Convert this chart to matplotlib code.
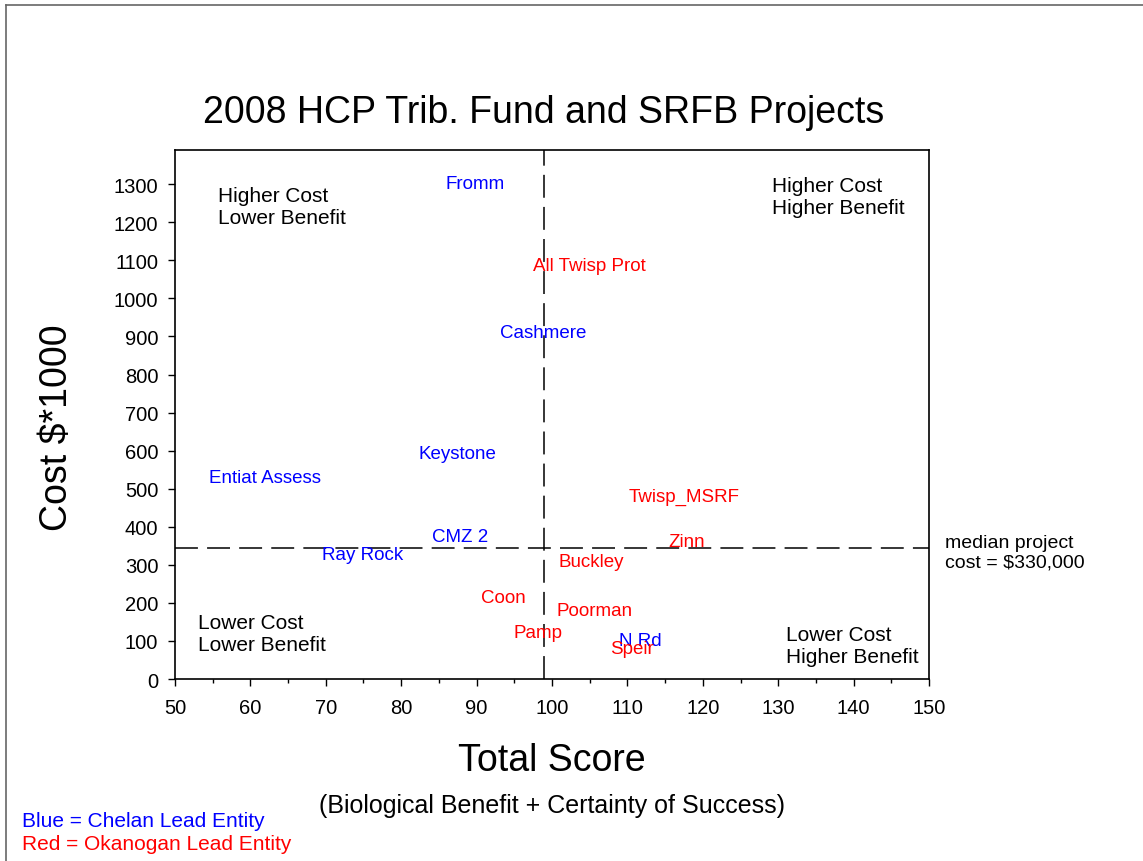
import matplotlib
matplotlib.use("Agg")
import matplotlib.pyplot as plt
from matplotlib.lines import Line2D
from matplotlib.ticker import MultipleLocator

plt.rcParams['font.family'] = ['Liberation Sans', 'DejaVu Sans']

# Project data (Total Score, Cost $*1000)
chelan_names = ["Fromm", "Cashmere", "Keystone", "Entiat Assess", "CMZ 2", "Ray Rock", "N Rd"]
chelan_score = [89.8, 98.8, 87.4, 61.9, 87.8, 74.9, 111.7]
chelan_cost = [1302, 911, 593, 530, 375, 328, 102]

okanogan_names = ["All Twisp Prot", "Twisp_MSRF", "Zinn", "Buckley", "Coon", "Poorman", "Pamp", "Speir"]
okanogan_score = [105.0, 117.5, 117.8, 105.2, 93.5, 105.6, 98.1, 110.6]
okanogan_cost = [1087, 480, 362, 310, 213, 181, 123, 81]

median_score = 99
median_cost = 343

quadrant_labels = ["Higher Cost\nLower Benefit", "Higher Cost\nHigher Benefit",
                   "Lower Cost\nLower Benefit", "Lower Cost\nHigher Benefit"]
quadrant_x = [55.7, 129.2, 53.0, 131.0]
quadrant_y = [1241, 1267, 119, 88]

W, H = 1143, 862
fig = plt.figure(figsize=(W / 100, H / 100), dpi=100)
ax = fig.add_axes([175 / W, 1 - 680 / H, (929 - 175) / W, (680 - 151) / H])

ax.set_xlim(50, 150)
ax.set_ylim(0, 1390)
ax.xaxis.set_major_locator(MultipleLocator(10))
ax.xaxis.set_minor_locator(MultipleLocator(5))
ax.set_yticks(range(0, 1301, 100))
ax.tick_params(axis='both', which='major', direction='out', length=5, width=1,
               labelsize=14.5, colors='black')
ax.tick_params(axis='y', which='major', pad=7)
ax.tick_params(axis='x', which='major', pad=9)
ax.tick_params(axis='x', which='minor', direction='out', length=3, width=1)
for s in ax.spines.values():
    s.set_linewidth(1.2)

ax.axvline(median_score, color='black', lw=1.1, dashes=(15, 6))
ax.axhline(median_cost, color='black', lw=1.1, dashes=(15, 6))

for n, x, y in zip(chelan_names, chelan_score, chelan_cost):
    ax.text(x, y, n, color='#0000ff', fontsize=13.5, ha='center', va='center')
for n, x, y in zip(okanogan_names, okanogan_score, okanogan_cost):
    ax.text(x, y, n, color='#ff0000', fontsize=13.5, ha='center', va='center')

for t, x, y in zip(quadrant_labels, quadrant_x, quadrant_y):
    ax.text(x, y, t, color='black', fontsize=15, ha='left', va='center', linespacing=1.2)

fig.text(544 / W, 1 - 113 / H, "2008 HCP Trib. Fund and SRFB Projects", fontsize=27,
         ha='center', va='center')
fig.text(552 / W, 1 - 761 / H, "Total Score", fontsize=27, ha='center', va='center')
fig.text(552 / W, 1 - 806 / H, "(Biological Benefit + Certainty of Success)", fontsize=18,
         ha='center', va='center')
fig.text(57 / W, 1 - 428 / H, "Cost $*1000", fontsize=27, ha='center', va='center',
         rotation=90)
fig.text(945 / W, 1 - 553 / H, "median project\ncost = $330,000", fontsize=14,
         ha='left', va='center', linespacing=1.2)
fig.text(22 / W, 1 - 822 / H, "Blue = Chelan Lead Entity", fontsize=15, color='#0000ff',
         ha='left', va='center')
fig.text(22 / W, 1 - 845 / H, "Red = Okanogan Lead Entity", fontsize=15, color='#ff0000',
         ha='left', va='center')

# outer frame lines (top and left)
fig.add_artist(Line2D([6 / W, 1], [1 - 6 / H, 1 - 6 / H], transform=fig.transFigure,
                      color='#666666', lw=1.2))
fig.add_artist(Line2D([6 / W, 6 / W], [0, 1 - 6 / H], transform=fig.transFigure,
                      color='#666666', lw=1.2))

fig.savefig("out.png", dpi=100)
